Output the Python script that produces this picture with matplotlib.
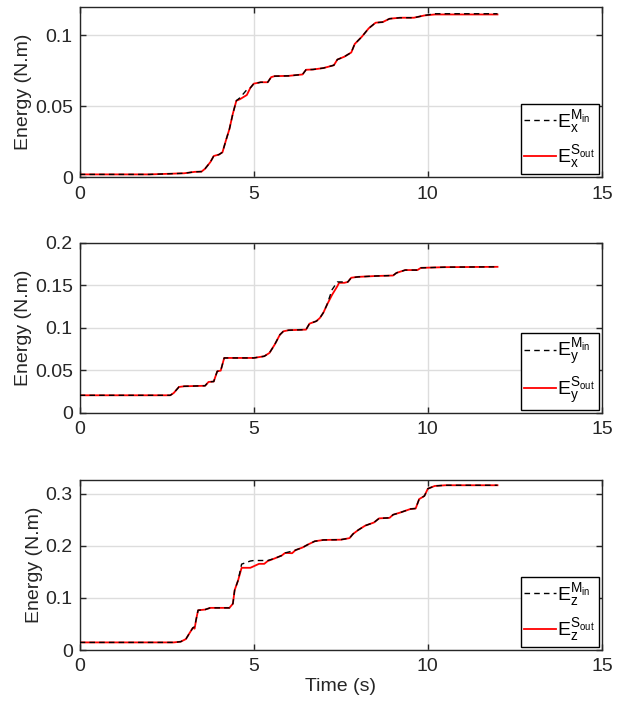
import matplotlib.pyplot as plt

plt.rcParams["font.family"] = ["Liberation Sans", "DejaVu Sans"]
plt.rcParams["mathtext.fontset"] = "custom"
plt.rcParams["mathtext.rm"] = "Liberation Sans"
plt.rcParams["mathtext.it"] = "Liberation Sans"

# x axis: red (slave output) curves
tx = [0, 2.0, 3.0, 3.3, 3.5, 3.6, 3.75, 3.85, 4.0, 4.1, 4.2, 4.3, 4.4, 4.5, 4.6,
      4.8, 4.9, 5.0, 5.2, 5.4, 5.5, 5.6, 6.0, 6.4, 6.5, 6.7, 7.0, 7.3, 7.4, 7.6,
      7.8, 7.9, 8.1, 8.3, 8.5, 8.7, 8.9, 9.2, 9.6, 9.9, 10.2, 12.0]
ex_out = [0.002, 0.002, 0.0028, 0.0038, 0.004, 0.006, 0.0106, 0.015, 0.016, 0.0176,
          0.026, 0.034, 0.045, 0.054, 0.055, 0.058, 0.063, 0.066, 0.067, 0.067,
          0.0706, 0.0713, 0.0715, 0.0725, 0.0758, 0.076, 0.077, 0.079, 0.083, 0.085,
          0.088, 0.094, 0.099, 0.105, 0.109, 0.1094, 0.1118, 0.1125, 0.1125, 0.1141,
          0.1148, 0.1148]
ex_in = [0.002, 0.002, 0.0028, 0.0038, 0.004, 0.006, 0.0106, 0.015, 0.016, 0.0176,
         0.026, 0.034, 0.045, 0.054, 0.056, 0.0617, 0.063, 0.066, 0.067, 0.067,
         0.0706, 0.0713, 0.0715, 0.0725, 0.0758, 0.076, 0.077, 0.079, 0.083, 0.085,
         0.088, 0.094, 0.099, 0.105, 0.109, 0.1094, 0.1118, 0.1125, 0.1125, 0.1141,
         0.1153, 0.1153]

ty = [0, 2.6, 2.7, 2.85, 3.0, 3.6, 3.7, 3.85, 3.95, 4.05, 4.15, 5.0, 5.3, 5.45, 5.6,
      5.75, 5.85, 6.0, 6.5, 6.6, 6.8, 6.9, 7.0, 7.1, 7.25, 7.4, 7.45, 7.6, 7.7, 7.8,
      8.0, 8.5, 9.0, 9.1, 9.35, 9.7, 9.8, 10.5, 12.0]
ey_out = [0.0208, 0.0208, 0.0235, 0.0306, 0.0314, 0.032, 0.0365, 0.037, 0.049, 0.0498,
          0.0647, 0.0647, 0.0667, 0.0706, 0.0804, 0.092, 0.096, 0.0973, 0.098, 0.105,
          0.108, 0.1118, 0.118, 0.127, 0.139, 0.149, 0.153, 0.153, 0.154, 0.159,
          0.16, 0.161, 0.1616, 0.1647, 0.168, 0.168, 0.1706, 0.1714, 0.1718]
ey_in = [0.0208, 0.0208, 0.0235, 0.0306, 0.0314, 0.032, 0.0365, 0.037, 0.049, 0.0498,
         0.0647, 0.0647, 0.0667, 0.0706, 0.0804, 0.092, 0.096, 0.0973, 0.098, 0.105,
         0.108, 0.1118, 0.118, 0.127, 0.145, 0.154, 0.154, 0.154, 0.154, 0.159,
         0.16, 0.161, 0.1616, 0.1647, 0.168, 0.168, 0.1706, 0.1714, 0.1718]

tz = [0, 2.7, 2.9, 3.05, 3.15, 3.25, 3.3, 3.35, 3.4, 3.6, 3.75, 4.3, 4.4, 4.45, 4.55,
      4.65, 4.9, 5.0, 5.15, 5.3, 5.4, 5.6, 5.8, 5.9, 6.1, 6.2, 6.4, 6.55, 6.75, 7.0,
      7.5, 7.75, 7.85, 8.0, 8.2, 8.45, 8.6, 8.9, 9.0, 9.2, 9.5, 9.65, 9.75, 9.9, 10.0,
      10.2, 10.5, 12.0]
ez_out = [0.0146, 0.0146, 0.016, 0.021, 0.032, 0.0427, 0.041, 0.0605, 0.0764, 0.0777,
          0.081, 0.081, 0.089, 0.115, 0.134, 0.158, 0.158, 0.161, 0.1656, 0.1656,
          0.171, 0.176, 0.1815, 0.1866, 0.186, 0.192, 0.197, 0.2025, 0.209, 0.2115,
          0.212, 0.215, 0.223, 0.2306, 0.239, 0.245, 0.253, 0.254, 0.26, 0.264,
          0.271, 0.272, 0.29, 0.296, 0.31, 0.3153, 0.3166, 0.3166]
ez_in = [0.0146, 0.0146, 0.016, 0.021, 0.032, 0.0427, 0.045, 0.0605, 0.0764, 0.0777,
         0.081, 0.081, 0.089, 0.115, 0.134, 0.165, 0.171, 0.172, 0.172, 0.172,
         0.172, 0.176, 0.1815, 0.1866, 0.19, 0.192, 0.197, 0.2025, 0.209, 0.2115,
         0.212, 0.215, 0.223, 0.2306, 0.239, 0.245, 0.253, 0.254, 0.26, 0.264,
         0.271, 0.272, 0.29, 0.296, 0.31, 0.3153, 0.3166, 0.3166]

panels = [
    (tx, ex_in, ex_out, "x", 0.12, [0, 0.05, 0.1], ["0", "0.05", "0.1"]),
    (ty, ey_in, ey_out, "y", 0.2, [0, 0.05, 0.1, 0.15, 0.2],
     ["0", "0.05", "0.1", "0.15", "0.2"]),
    (tz, ez_in, ez_out, "z", 0.327, [0, 0.1, 0.2, 0.3], ["0", "0.1", "0.2", "0.3"]),
]

fig = plt.figure(figsize=(6.18, 7.09), dpi=100)
bottoms = [0.750, 0.4175, 0.0832]
dark = "#262626"

for (t, e_in, e_out, ax_name, ymax, yt, ytl), b in zip(panels, bottoms):
    ax = fig.add_axes([0.129, b, 0.845, 0.240])
    ax.plot(t, e_in, "k--", lw=1.0, dashes=(4, 3),
            label=r"$\mathregular{E_%s^{M_{in}}}$" % ax_name, zorder=3)
    ax.plot(t, e_out, color="red", lw=1.3,
            label=r"$\mathregular{E_%s^{S_{out}}}$" % ax_name, zorder=2)
    ax.set_xlim(0, 15)
    ax.set_ylim(0, ymax)
    ax.set_xticks([0, 5, 10, 15])
    ax.set_yticks(yt)
    ax.set_yticklabels(ytl)
    ax.grid(True, color="#dddddd", lw=1.0)
    ax.set_axisbelow(True)
    ax.tick_params(direction="in", top=True, right=True, labelsize=14,
                   length=4, width=1, color=dark, labelcolor=dark)
    ax.tick_params(axis="x", pad=6)
    ax.tick_params(axis="y", pad=5)
    for s in ax.spines.values():
        s.set_linewidth(1.0)
        s.set_color(dark)
    ax.set_ylabel("Energy (N.m)", fontsize=14, color=dark, labelpad=2)
    leg = ax.legend(loc="lower right", fontsize=14, fancybox=False,
                    edgecolor="black", framealpha=1, handlelength=1.6,
                    handletextpad=0.1, borderaxespad=0.15, borderpad=0.2,
                    labelspacing=0.45)
    leg.get_frame().set_linewidth(1.0)

ax.set_xlabel("Time (s)", fontsize=14, color=dark, labelpad=2)

fig.savefig("out.png", dpi=100)
